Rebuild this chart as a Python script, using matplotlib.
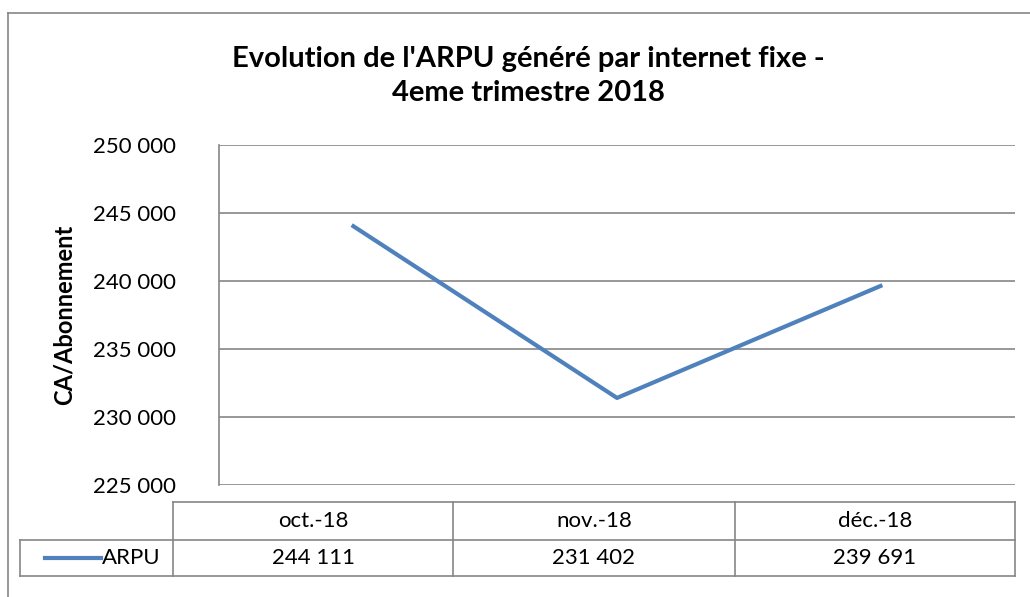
import matplotlib.pyplot as plt
from matplotlib.lines import Line2D

plt.rcParams['font.family'] = ['Lato', 'DejaVu Sans']

months = ['oct.-18', 'nov.-18', 'déc.-18']
arpu = [244111, 231402, 239691]
arpu_labels = ['244 111', '231 402', '239 691']
yticks = [225000, 230000, 235000, 240000, 245000, 250000]
ytick_labels = ['225 000', '230 000', '235 000', '240 000', '245 000', '250 000']

W, H = 1030, 597
blue = '#4F81BD'
grey = '#868686'

fig = plt.figure(figsize=(W / 100, H / 100), dpi=100)

# overlay in pixel coordinates for frame and data table
bg = fig.add_axes([0, 0, 1, 1])
bg.set_xlim(0, W)
bg.set_ylim(H, 0)
bg.axis('off')

# chart frame (left and top visible)
bg.add_line(Line2D([8, 8], [13, H], color=grey, lw=1.2))
bg.add_line(Line2D([8, W], [13, 13], color=grey, lw=1.2))

# main plot
ax = fig.add_axes([219 / W, (H - 485) / H, 796 / W, 340 / H])
x = range(len(months))
ax.plot(x, arpu, color=blue, lw=3, solid_capstyle='butt')
ax.set_xlim(-0.5, len(months) - 0.5)
ax.set_ylim(225000, 250000)
ax.set_yticks(yticks)
ax.set_yticklabels(ytick_labels, fontsize=16)
ax.set_xticks([])
ax.tick_params(axis='y', length=0, pad=31)
ax.yaxis.grid(True, color=grey, lw=1.2)
ax.set_axisbelow(True)
for s in ['top', 'right', 'bottom']:
    ax.spines[s].set_visible(False)
ax.spines['left'].set_color(grey)
ax.spines['left'].set_linewidth(1.2)

fig.text(64 / W, 1 - 315 / H, 'CA/Abonnement', rotation=90, ha='center', va='center',
         fontsize=17, fontweight='bold')

fig.text(528 / W, 1 - 76 / H, "Evolution de l'ARPU généré par internet fixe -\n4eme trimestre 2018",
         ha='center', va='center', fontsize=21, fontweight='bold', linespacing=1.35)

# data table
cols = [173, 453, 735, 1015]
top, mid, bot = 502, 540, 576
lw = 1.2
bg.add_line(Line2D([173, 1015], [top, top], color=grey, lw=lw))
bg.add_line(Line2D([20, 1015], [mid, mid], color=grey, lw=lw))
bg.add_line(Line2D([20, 1015], [bot, bot], color=grey, lw=lw))
bg.add_line(Line2D([20, 20], [mid, bot], color=grey, lw=lw))
for c in cols:
    bg.add_line(Line2D([c, c], [top, bot], color=grey, lw=lw))
for i, (m, v) in enumerate(zip(months, arpu_labels)):
    cx = (cols[i] + cols[i + 1]) / 2
    bg.text(cx, (top + mid) / 2, m, ha='center', va='center', fontsize=16)
    bg.text(cx, (mid + bot) / 2, v, ha='center', va='center', fontsize=16)
bg.add_line(Line2D([45, 101], [(mid + bot) / 2] * 2, color=blue, lw=3))
bg.text(102, (mid + bot) / 2, 'ARPU', ha='left', va='center', fontsize=16)

fig.savefig('out.png', dpi=100)
